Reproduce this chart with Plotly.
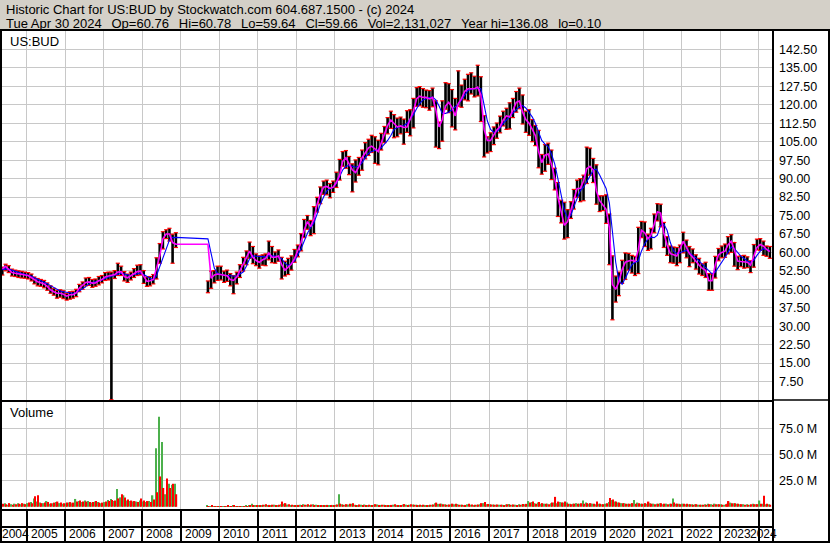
import pandas as pd
import plotly.graph_objects as go

W, H = 830, 543
FONT = "Arial, Liberation Sans, sans-serif"
GRID = "#c8c8c8"

# months with data (trading halted Dec 2008 - Aug 2009)
months = list(pd.period_range("2004-05", "2008-11", freq="M")) + \
         list(pd.period_range("2009-09", "2024-04", freq="M"))

ma_fast = [
    53.3, 54.3, 53.0, 51.8, 51.5, 51.2, 50.9, 50.8,
    50.6, 49.8, 48.8, 48.1, 47.7, 47.2, 46.2, 44.8, 44.0, 43.4, 43.4, 43.0,
    42.2, 42.8, 42.8, 43.5, 45.5, 46.5, 47.8, 48.0, 47.5, 47.6, 48.5, 49.0,
    50.0, 50.4, 50.6, 51.0, 52.0, 52.2, 50.2, 49.7, 50.5, 51.5, 52.2, 52.4,
    50.0, 48.2, 48.5, 49.0, 53.5, 58.5, 65.5, 67.5, 67.5, 64.0, 63.3,
    63.3, 49.5, 50.8, 51.2,
    51.0, 50.5, 50.5, 49.0, 48.6, 50.0, 52.5, 55.5, 57.5, 60.5, 58.0, 56.7,
    56.0, 57.0, 57.5, 59.8, 58.0, 58.0, 58.5, 55.0, 52.8, 54.0, 55.3, 57.5,
    60.5, 64.0, 69.0, 72.5, 70.5, 73.5, 79.5, 83.5, 86.5, 86.8, 86.0, 86.5,
    88.5, 91.5, 97.0, 98.5, 96.0, 93.5, 92.5, 94.8, 98.5, 100.5, 102.5, 103.2,
    102.0, 101.0, 104.5, 108.5, 111.5, 113.8, 112.5, 111.0, 111.4, 110.8, 111.0, 114.0,
    117.5, 122.5, 123.5, 123.0, 123.0, 122.4, 123.0, 118.0, 111.0, 114.0, 119.5, 121.0,
    119.0, 115.5, 120.5, 122.5, 125.5, 126.5, 126.5, 126.5, 127.2, 124.0, 110.0, 105.5,
    105.5, 107.5, 109.8, 111.2, 113.8, 115.5, 115.0, 117.8, 121.0, 121.5, 117.0, 114.0,
    112.5, 110.0, 107.5, 101.0, 96.5, 99.5, 100.0, 96.0, 90.0, 82.5, 77.0, 71.0,
    72.5, 77.5, 81.5, 86.0, 86.0, 89.0, 94.0, 95.0, 93.5, 85.0, 81.0, 79.5,
    77.5, 70.0, 47.0, 45.0, 48.0, 53.0, 56.0, 56.5, 56.8, 56.3, 61.0, 69.0,
    68.0, 65.5, 67.0, 71.5, 76.5, 76.0, 68.0, 63.0, 59.5, 59.0, 58.5, 61.5,
    64.5, 62.0, 59.5, 58.0, 56.3, 54.8, 53.5, 52.7, 48.5, 48.5, 55.0, 59.0,
    60.0, 60.5, 63.0, 64.5, 61.0, 56.5, 56.3, 56.2, 56.0, 54.8, 58.5, 62.0,
    63.2, 62.5, 61.2, 60.3,
]

ma_slow = [
    53.0, 53.3, 53.2, 52.7, 52.2, 51.8, 51.4, 51.1,
    50.8, 50.3, 49.7, 49.1, 48.6, 48.1, 47.3, 46.5, 45.7, 45.0, 44.3, 44.0,
    43.7, 43.5, 43.4, 43.6, 44.3, 45.2, 46.2, 47.2, 47.8, 48.0, 48.4, 48.8,
    49.5, 50.0, 50.3, 50.7, 51.2, 51.5, 51.2, 50.8, 50.6, 51.0, 51.4, 51.5,
    51.0, 50.2, 49.3, 48.8, 50.5, 54.2, 58.5, 62.0, 65.0, 66.0, 66.1,
    65.5, 59.0, 53.5, 51.5,
    51.0, 50.7, 50.6, 50.5, 50.2, 50.3, 51.2, 52.0, 54.5, 57.5, 58.6, 58.5,
    58.2, 58.0, 58.2, 58.6, 58.7, 58.5, 58.2, 57.5, 55.5, 54.6, 55.5, 56.5,
    59.0, 61.5, 64.5, 67.8, 70.0, 72.0, 75.5, 79.5, 82.5, 85.0, 86.0, 86.4,
    88.0, 91.0, 93.5, 95.0, 95.3, 95.0, 94.6, 95.0, 96.5, 98.5, 100.2, 101.0,
    101.4, 101.8, 102.5, 104.0, 105.5, 107.5, 110.0, 110.8, 111.2, 111.5, 112.5, 114.0,
    116.0, 118.5, 120.5, 122.0, 122.6, 123.0, 123.1, 122.0, 119.5, 116.5, 116.5, 117.0,
    118.0, 119.2, 120.3, 122.0, 124.0, 125.8, 126.3, 126.5, 126.7, 126.5, 120.0, 113.5,
    110.0, 108.8, 109.0, 110.5, 112.5, 114.0, 115.0, 116.5, 118.0, 119.2, 119.7, 118.7,
    117.0, 115.0, 112.5, 109.0, 105.5, 104.0, 103.0, 100.0, 96.0, 90.0, 83.0, 77.0,
    74.0, 75.0, 78.5, 82.0, 85.0, 86.5, 88.5, 91.0, 93.5, 93.8, 91.5, 88.5,
    86.0, 80.0, 68.0, 56.0, 48.5, 47.0, 49.5, 52.5, 55.0, 56.0, 56.5, 60.5,
    63.5, 65.5, 66.2, 66.0, 67.0, 71.0, 71.5, 69.0, 64.0, 60.5, 59.5, 59.8,
    60.5, 60.8, 60.0, 58.8, 57.8, 56.5, 55.4, 54.0, 52.5, 51.3, 52.0, 53.8,
    56.0, 58.0, 60.0, 62.2, 61.5, 59.8, 58.5, 57.5, 56.5, 56.0, 56.8, 58.8,
    60.5, 61.5, 61.2, 60.8,
]

opens = [
    52.0, 53.5, 54.0, 52.6, 51.6, 51.2, 51.4, 50.6,
    50.8, 50.0, 49.2, 48.0, 47.6, 47.2, 46.6, 45.6, 44.4, 43.6, 43.0, 43.6,
    42.6, 41.6, 42.4, 43.0, 44.6, 45.4, 46.2, 48.4, 48.6, 47.4, 47.6, 48.8,
    49.2, 50.8, 50.4, 50.6, 51.4, 53.2, 51.8, 49.6, 49.8, 50.4, 51.6, 52.8,
    52.4, 48.8, 47.4, 48.6, 49.6, 57.0, 62.2, 67.6, 67.8, 66.0, 64.0,
    45.0, 46.4, 49.6, 50.4,
    51.8, 50.0, 50.6, 49.8, 48.2, 47.8, 50.4, 53.8, 55.6, 59.0, 61.0, 57.0,
    57.2, 55.4, 57.4, 57.2, 62.0, 57.6, 58.0, 57.6, 53.2, 53.0, 55.6, 56.8,
    60.8, 61.0, 66.8, 72.6, 71.6, 68.2, 77.8, 81.0, 85.2, 86.0, 84.0, 87.0,
    87.4, 91.0, 96.8, 99.4, 96.6, 92.6, 90.2, 96.6, 94.0, 99.2, 103.8, 101.6,
    106.4, 97.0, 104.2, 105.4, 109.6, 112.4, 115.0, 108.0, 112.2, 111.0, 110.8, 117.0,
    112.4, 121.8, 123.2, 122.0, 120.2, 121.2, 121.0, 120.0, 106.4, 106.2, 119.8, 128.4,
    125.0, 116.0, 120.6, 124.6, 124.0, 126.2, 131.8, 129.0, 125.2, 130.4, 114.8, 103.6,
    104.2, 104.2, 109.6, 109.8, 113.0, 116.2, 110.4, 120.6, 118.6, 119.6, 123.0, 115.0,
    111.6, 111.8, 108.6, 108.2, 98.2, 93.6, 100.8, 101.2, 92.6, 87.4, 76.8, 79.4,
    66.2, 76.2, 79.4, 83.8, 88.6, 81.6, 88.4, 101.6, 94.8, 95.0, 80.4, 78.4,
    82.0, 73.4, 56.6, 44.2, 45.6, 49.2, 49.8, 54.6, 56.2, 53.8, 51.8, 69.2,
    70.0, 62.8, 62.6, 68.8, 75.2, 75.6, 71.4, 64.2, 60.4, 56.4, 61.2, 56.4,
    60.6, 63.6, 60.8, 59.8, 56.8, 55.6, 54.0, 53.4, 50.2, 45.6, 50.0, 57.6,
    60.0, 60.4, 60.2, 65.8, 63.8, 55.8, 56.4, 56.8, 57.0, 55.4, 54.2, 62.6,
    64.6, 62.8, 60.6, 60.76,
]

highs = [
    54.0, 55.2, 54.6, 53.2, 52.8, 52.5, 52.3, 52.0,
    51.8, 51.2, 50.0, 49.4, 49.0, 48.6, 47.6, 46.4, 45.4, 44.6, 44.8, 44.4,
    43.4, 44.0, 44.2, 45.0, 47.0, 48.0, 49.6, 49.8, 49.0, 49.2, 50.2, 50.6,
    51.8, 52.0, 52.0, 52.6, 55.6, 54.4, 52.2, 51.2, 52.0, 53.4, 54.8, 55.0,
    52.6, 50.0, 50.2, 51.0, 57.8, 63.6, 68.4, 69.2, 69.8, 67.4, 68.0,
    48.4, 52.4, 52.6, 54.4,
    54.4, 52.4, 52.8, 51.4, 50.6, 52.0, 55.0, 58.0, 60.6, 64.2, 62.4, 59.4,
    58.6, 59.0, 59.4, 64.6, 62.4, 60.2, 61.0, 58.0, 56.4, 57.6, 58.6, 61.2,
    63.0, 67.6, 73.4, 75.0, 73.0, 78.6, 82.4, 86.6, 89.0, 89.4, 88.0, 89.0,
    92.6, 97.8, 101.0, 101.4, 99.0, 96.0, 97.6, 98.6, 101.6, 104.6, 106.0, 107.6,
    107.0, 105.6, 108.4, 111.2, 114.8, 117.4, 116.0, 114.6, 115.0, 114.2, 117.6, 118.0,
    122.6, 127.0, 127.4, 126.6, 126.0, 125.8, 126.8, 121.6, 113.0, 121.6, 129.0, 128.6,
    126.2, 122.6, 133.8, 128.0, 130.4, 132.4, 133.0, 131.6, 136.08, 131.4, 115.6, 107.0,
    108.6, 111.0, 112.6, 115.4, 117.4, 118.6, 120.8, 122.6, 125.4, 126.8, 124.0, 117.4,
    118.0, 114.0, 111.6, 109.6, 99.8, 103.8, 104.4, 101.6, 94.2, 88.4, 81.2, 80.4,
    77.4, 80.6, 85.6, 89.4, 90.0, 91.4, 102.8, 102.4, 98.2, 95.6, 83.0, 83.0,
    83.4, 75.6, 58.6, 50.4, 52.0, 56.8, 59.8, 59.6, 58.8, 58.4, 70.2, 72.6,
    72.4, 67.4, 69.8, 75.6, 79.8, 79.6, 72.2, 66.4, 62.6, 62.2, 62.0, 63.0,
    68.2, 65.0, 62.4, 61.4, 59.0, 57.6, 55.4, 56.0, 51.4, 51.2, 58.4, 61.6,
    62.6, 63.4, 66.4, 67.2, 64.0, 58.4, 58.6, 58.8, 58.2, 56.6, 63.2, 65.4,
    65.6, 64.6, 62.6, 62.4,
]

lows = [
    50.8, 52.5, 51.8, 50.4, 50.2, 49.8, 49.6, 49.5,
    49.2, 48.4, 47.2, 46.4, 46.2, 45.6, 44.6, 43.4, 42.6, 41.4, 41.8, 41.2,
    40.6, 41.0, 41.4, 42.0, 44.0, 45.0, 46.4, 46.6, 45.8, 46.2, 46.8, 47.6,
    48.6, 48.8, 0.10, 49.4, 50.6, 50.6, 48.4, 47.8, 48.8, 49.8, 50.6, 50.8,
    47.4, 46.2, 46.4, 47.2, 49.2, 55.6, 61.4, 65.6, 64.6, 55.6, 62.0,
    43.6, 45.4, 47.6, 48.6,
    48.8, 47.8, 48.2, 46.4, 43.2, 47.2, 49.8, 52.4, 55.0, 57.6, 55.4, 54.6,
    53.6, 54.8, 54.6, 57.0, 55.8, 55.6, 56.4, 49.2, 50.4, 51.0, 52.8, 56.0,
    58.2, 60.6, 66.0, 69.4, 66.8, 67.6, 76.4, 79.8, 83.6, 83.4, 82.2, 84.4,
    86.4, 89.4, 95.0, 94.2, 91.6, 84.6, 88.6, 91.4, 93.4, 98.0, 99.4, 100.6,
    96.2, 95.6, 101.6, 104.6, 108.2, 110.4, 106.6, 107.0, 108.2, 104.0, 108.8, 107.4,
    110.6, 119.4, 119.6, 119.0, 118.8, 117.8, 119.2, 102.8, 102.2, 105.2, 118.2, 116.8,
    111.0, 109.8, 119.4, 119.0, 122.0, 121.6, 124.4, 123.2, 123.6, 113.2, 98.8, 100.4,
    101.0, 103.8, 106.4, 108.6, 111.4, 110.0, 110.2, 114.8, 117.0, 118.4, 112.2, 108.8,
    107.6, 105.0, 103.4, 94.4, 91.8, 93.0, 95.8, 89.6, 85.4, 74.6, 72.0, 65.4,
    66.0, 73.8, 77.6, 82.4, 80.6, 81.0, 88.0, 91.4, 88.4, 79.6, 76.6, 77.0,
    71.8, 55.0, 32.6, 39.8, 42.4, 47.4, 49.0, 52.8, 51.6, 50.6, 51.4, 66.0,
    62.4, 60.8, 61.4, 68.0, 72.8, 70.4, 62.0, 58.8, 55.8, 55.6, 54.6, 55.8,
    59.8, 57.8, 54.2, 55.8, 53.2, 51.2, 50.6, 49.8, 44.6, 44.6, 49.6, 56.6,
    57.8, 58.0, 59.4, 60.0, 54.4, 53.0, 54.2, 53.6, 53.8, 51.8, 54.0, 61.0,
    60.8, 58.8, 58.4, 57.6,
]

closes = [
    53.5, 54.0, 52.6, 51.6, 51.2, 51.4, 50.6, 50.8,
    50.0, 49.2, 48.0, 47.6, 47.2, 46.6, 45.6, 44.4, 43.6, 43.0, 43.6, 42.6,
    41.6, 42.4, 43.0, 44.6, 45.4, 46.2, 48.4, 48.6, 47.4, 47.6, 48.8, 49.2,
    50.8, 50.4, 50.6, 51.4, 53.2, 51.8, 49.6, 49.8, 50.4, 51.6, 52.8, 52.4,
    48.8, 47.4, 48.6, 49.6, 57.0, 62.2, 67.6, 67.8, 66.0, 64.0, 63.5,
    46.4, 49.6, 50.4, 51.8,
    50.0, 50.6, 49.8, 48.2, 47.8, 50.4, 53.8, 55.6, 59.0, 61.0, 57.0, 57.2,
    55.4, 57.4, 57.2, 62.0, 57.6, 58.0, 57.6, 53.2, 53.0, 55.6, 56.8, 60.8,
    61.0, 66.8, 72.6, 71.6, 68.2, 77.8, 81.0, 85.2, 86.0, 84.0, 87.0, 87.4,
    91.0, 96.8, 99.4, 96.6, 92.6, 90.2, 96.6, 94.0, 99.2, 103.8, 101.6, 106.4,
    97.0, 104.2, 105.4, 109.6, 112.4, 115.0, 108.0, 112.2, 111.0, 110.8, 117.0, 112.4,
    121.8, 123.2, 122.0, 120.2, 121.2, 121.0, 120.0, 106.4, 106.2, 119.8, 128.4, 125.0,
    116.0, 120.6, 124.6, 124.0, 126.2, 131.8, 129.0, 125.2, 130.4, 114.8, 103.6, 104.2,
    104.2, 109.6, 109.8, 113.0, 116.2, 110.4, 120.6, 118.6, 119.6, 123.0, 115.0, 111.6,
    111.8, 108.6, 108.2, 98.2, 93.6, 100.8, 101.2, 92.6, 87.4, 76.8, 79.4, 66.2,
    76.2, 79.4, 83.8, 88.6, 81.6, 88.4, 101.6, 94.8, 95.0, 80.4, 78.4, 82.0,
    73.4, 56.6, 44.2, 45.6, 49.2, 49.8, 54.6, 56.2, 53.8, 51.8, 69.2, 70.0,
    62.8, 62.6, 68.8, 75.2, 75.6, 71.4, 64.2, 60.4, 56.4, 61.2, 56.4, 60.6,
    63.6, 60.8, 59.8, 56.8, 55.6, 54.0, 53.4, 50.2, 45.6, 50.0, 57.6, 60.0,
    60.4, 60.2, 65.8, 63.8, 55.8, 56.4, 56.8, 57.0, 55.4, 54.2, 62.6, 64.6,
    62.8, 60.6, 60.8, 59.66,
]

# volume in millions: largest up-day and down-day bar of each month
vol_up = [
    2.5, 3.5, 2.0, 2.5, 3.0, 3.5, 2.5, 3.0,
    3.5, 4.5, 8.0, 5.0, 4.0, 3.5, 5.5, 3.0, 3.5, 4.5, 3.5, 3.0,
    3.5, 4.0, 3.5, 7.5, 5.5, 4.5, 6.0, 5.5, 4.0, 5.0, 4.5, 3.5,
    4.5, 6.5, 7.5, 5.5, 17.0, 9.0, 11.0, 6.0, 5.5, 5.0, 5.0, 6.0,
    5.0, 4.5, 5.5, 11.0, 56.0, 86.0, 62.0, 12.0, 22.0, 21.0, 22.0,
    0.8, 0.6, 0.5, 0.5,
    0.5, 0.6, 0.4, 0.5, 0.8, 0.6, 0.5, 0.6, 0.8, 1.0, 3.0, 0.8,
    1.5, 1.8, 2.0, 1.5, 1.8, 2.0, 1.5, 2.5, 3.0, 2.2, 1.8, 1.5,
    1.5, 2.0, 2.5, 2.0, 1.8, 2.5, 2.0, 1.5, 1.8, 1.5, 1.5, 1.8,
    2.0, 12.0, 2.5, 2.0, 2.2, 3.0, 2.0, 1.8, 2.0, 2.2, 1.8, 1.6,
    2.0, 2.2, 1.8, 2.0, 1.8, 1.6, 2.0, 1.8, 1.6, 2.2, 2.0, 2.0,
    2.2, 2.0, 1.8, 1.8, 1.6, 1.8, 2.0, 3.5, 2.8, 3.0, 2.5, 2.0,
    2.5, 2.4, 2.6, 2.0, 1.8, 2.4, 2.0, 1.8, 2.0, 2.5, 3.5, 2.5,
    2.5, 2.2, 2.0, 2.0, 2.0, 2.2, 2.6, 2.0, 2.0, 2.4, 2.2, 2.5,
    5.5, 4.5, 3.5, 4.0, 3.0, 3.0, 3.0, 3.5, 4.0, 3.5, 4.5, 4.0,
    4.0, 3.0, 3.0, 3.5, 3.0, 6.0, 4.0, 3.0, 3.0, 2.5, 3.0, 2.5,
    3.0, 4.5, 6.5, 5.0, 4.0, 3.5, 3.5, 3.0, 3.0, 6.5, 4.0, 3.0,
    3.0, 3.0, 3.5, 3.0, 3.0, 3.5, 2.5, 3.0, 3.0, 8.0, 3.0, 3.0,
    3.0, 2.5, 2.5, 2.5, 2.5, 2.0, 2.0, 2.5, 3.0, 2.5, 3.0, 2.5,
    2.5, 2.0, 3.0, 4.0, 3.5, 3.0, 2.5, 2.5, 2.5, 2.0, 3.0, 2.5,
    6.0, 3.0, 2.5, 2.5,
]

vol_down = [
    3.0, 2.5, 3.5, 2.0, 2.5, 3.0, 3.5, 2.5,
    4.0, 3.5, 10.0, 11.0, 3.5, 4.0, 4.5, 3.5, 4.0, 5.0, 4.0, 3.5,
    4.0, 4.5, 4.0, 5.0, 6.0, 5.0, 5.0, 4.5, 4.5, 5.5, 4.0, 4.0,
    5.0, 5.5, 6.5, 6.0, 8.0, 12.0, 9.0, 7.0, 6.0, 5.5, 4.5, 8.0,
    6.0, 5.5, 4.5, 7.0, 14.0, 29.0, 18.0, 27.0, 18.0, 22.0, 12.0,
    0.5, 1.0, 0.4, 0.6,
    0.6, 0.5, 0.8, 0.6, 1.2, 0.5, 0.4, 0.6, 0.5, 0.8, 1.5, 0.9,
    1.8, 2.0, 2.5, 1.8, 2.0, 1.5, 2.0, 5.0, 3.5, 2.5, 2.0, 1.8,
    1.8, 1.5, 2.0, 2.5, 2.2, 1.8, 1.5, 1.8, 1.5, 1.8, 1.6, 1.5,
    2.2, 3.0, 2.0, 2.5, 2.8, 3.5, 1.8, 2.2, 1.8, 1.5, 2.0, 1.8,
    2.5, 1.8, 2.0, 1.8, 1.6, 1.8, 2.4, 1.8, 1.8, 2.6, 1.8, 2.4,
    2.0, 1.8, 2.0, 2.0, 1.8, 2.0, 2.2, 4.0, 3.0, 2.5, 2.0, 2.2,
    3.0, 2.8, 2.0, 2.0, 1.8, 3.0, 2.2, 2.0, 2.2, 3.5, 4.5, 2.6,
    2.2, 2.0, 2.2, 2.0, 1.8, 2.4, 2.0, 2.2, 1.8, 2.0, 2.6, 2.8,
    4.0, 5.0, 3.0, 4.5, 3.5, 3.0, 2.5, 4.0, 9.5, 5.0, 4.0, 5.0,
    3.0, 2.5, 3.0, 3.0, 3.5, 3.0, 3.5, 3.5, 3.0, 5.0, 3.0, 2.5,
    3.5, 8.5, 7.0, 5.0, 4.0, 3.5, 3.0, 3.0, 3.5, 3.0, 3.5, 3.0,
    3.5, 5.0, 3.0, 2.5, 3.0, 3.5, 3.0, 2.5, 3.0, 4.0, 3.0, 2.5,
    3.0, 3.0, 2.5, 2.0, 2.5, 2.0, 2.0, 2.0, 2.5, 2.0, 2.5, 2.5,
    2.0, 2.5, 5.5, 3.5, 3.5, 3.0, 2.5, 2.0, 2.0, 2.5, 2.5, 2.5,
    3.0, 10.5, 3.0, 2.0,
]

years = list(range(2005, 2025))
price_ticks = [7.5 * i for i in range(1, 20)]
vol_ticks = [25, 50, 75]

for name, arr in [("ma_fast", ma_fast), ("ma_slow", ma_slow), ("opens", opens),
                  ("highs", highs), ("lows", lows), ("closes", closes),
                  ("vol_up", vol_up), ("vol_down", vol_down)]:
    assert len(arr) == len(months), (name, len(arr), len(months))

dates = [p.to_timestamp() + pd.Timedelta(days=14) for p in months]
xrange = ["2004-05-12", "2024-05-15"]


def py(p):
    return 1 - p / H


fig = go.Figure()

fig.add_trace(go.Ohlc(
    x=dates, open=opens, high=highs, low=lows, close=closes,
    increasing=dict(line=dict(color="black", width=2.6)),
    decreasing=dict(line=dict(color="black", width=2.6)),
    tickwidth=0.15, xaxis="x", yaxis="y", hoverinfo="skip",
))
# red tick marks at the bar extremes
fig.add_trace(go.Scatter(
    x=dates + dates, y=highs + lows, mode="markers", xaxis="x", yaxis="y",
    marker=dict(symbol="line-ew", size=3, line=dict(color="#ff0000", width=1.2)),
    hoverinfo="skip",
))
fig.add_trace(go.Scatter(
    x=dates, y=ma_slow, mode="lines", xaxis="x", yaxis="y",
    line=dict(color="#0000ff", width=1.1), hoverinfo="skip",
))
fig.add_trace(go.Scatter(
    x=dates, y=ma_fast, mode="lines", xaxis="x", yaxis="y",
    line=dict(color="#ff00ff", width=1.6), hoverinfo="skip",
))

fig.add_trace(go.Bar(
    x=dates, y=vol_up, marker=dict(color="#4cb04c", line=dict(width=0)),
    xaxis="x2", yaxis="y2", hoverinfo="skip",
))
fig.add_trace(go.Bar(
    x=dates, y=vol_down, marker=dict(color="#ff0000", line=dict(width=0)),
    xaxis="x2", yaxis="y2", hoverinfo="skip",
))

year_dates = [f"{y}-01-01" for y in years]
xdom = [2 / W, 773 / W]

fig.update_layout(
    width=W, height=H,
    margin=dict(l=0, r=0, t=0, b=0),
    paper_bgcolor="white", plot_bgcolor="white",
    showlegend=False,
    barmode="group", bargap=0.1, bargroupgap=0,
    font=dict(family=FONT, size=13, color="black"),
    xaxis=dict(
        domain=xdom, anchor="y", type="date", range=xrange,
        tickmode="array", tickvals=year_dates, showticklabels=False,
        showgrid=True, gridcolor=GRID, gridwidth=1, ticks="",
        showline=True, linecolor="black", linewidth=1.5,
        rangeslider=dict(visible=False), zeroline=False,
    ),
    yaxis=dict(
        domain=[py(400), py(31)], anchor="x", range=[0, 150], side="right",
        tickmode="array", tickvals=price_ticks,
        ticktext=[f"{v:.2f}" for v in price_ticks],
        showgrid=True, gridcolor=GRID, gridwidth=1, zeroline=False,
        ticks="", ticklabelstandoff=5, tickfont=dict(size=12.5),
        showline=False,
    ),
    xaxis2=dict(
        domain=xdom, anchor="y2", type="date", range=xrange,
        tickmode="array", tickvals=year_dates, showticklabels=False,
        showgrid=True, gridcolor=GRID, gridwidth=1,
        ticks="outside", ticklen=34, tickwidth=2, tickcolor="black",
        showline=True, mirror=True, linecolor="black", linewidth=2,
        zeroline=False,
    ),
    yaxis2=dict(
        domain=[py(509), py(402)], anchor="x2", range=[-2.1, 100.1], side="right",
        tickmode="array", tickvals=vol_ticks,
        ticktext=[f"{v:.1f} M" for v in vol_ticks],
        showgrid=True, gridcolor=GRID, gridwidth=1, zeroline=False,
        ticks="", ticklabelstandoff=5, tickfont=dict(size=12.5),
        showline=False,
    ),
)

shapes = [
    # title bar
    dict(type="rect", xref="paper", yref="paper", x0=0, x1=1, y0=py(30), y1=1,
         fillcolor="#d4d0c8", line=dict(width=0), layer="below"),
    dict(type="line", xref="paper", yref="paper", x0=0, x1=1, y0=py(30), y1=py(30),
         line=dict(color="black", width=2)),
    # outer frame
    dict(type="line", xref="paper", yref="paper", x0=1 / W, x1=1 / W, y0=0, y1=py(30),
         line=dict(color="black", width=2)),
    dict(type="line", xref="paper", yref="paper", x0=829 / W, x1=829 / W, y0=0, y1=py(30),
         line=dict(color="black", width=2)),
    dict(type="line", xref="paper", yref="paper", x0=0, x1=1, y0=py(542), y1=py(542),
         line=dict(color="black", width=2)),
    # axis column separator
    dict(type="line", xref="paper", yref="paper", x0=773 / W, x1=773 / W, y0=0, y1=py(30),
         line=dict(color="black", width=2)),
    # panel separators
    dict(type="line", xref="paper", yref="paper", x0=773 / W, x1=1, y0=py(400), y1=py(400),
         line=dict(color="black", width=1.5)),
    dict(type="line", xref="paper", yref="paper", x0=0, x1=773 / W, y0=py(527), y1=py(527),
         line=dict(color="black", width=2)),
]
fig.update_layout(shapes=shapes)

sp = "\u00a0\u00a0\u2009"
annotations = [
    dict(text="Historic Chart for US:BUD by Stockwatch.com 604.687.1500 - (c) 2024",
         x=4 / W, y=py(9.5)),
    dict(text=f"Tue Apr 30 2024{sp}Op=60.76{sp}Hi=60.78{sp}Lo=59.64{sp}Cl=59.66{sp}"
              f"Vol=2,131,027{sp}Year hi=136.08{sp}lo=0.10",
         x=4 / W, y=py(23)),
    dict(text="US:BUD", x=8 / W, y=py(41.5)),
    dict(text="Volume", x=8 / W, y=py(413)),
    dict(text="2004", x=0, y=py(534), font=dict(size=12)),
    dict(text="2024", x=779 / W, y=py(534), xanchor="right", font=dict(size=12)),
]
for a in annotations:
    a.setdefault("xanchor", "left")
    a.update(xref="paper", yref="paper", yanchor="middle", showarrow=False)
for y in years[:-1]:
    annotations.append(dict(
        text=str(y), x=f"{y}-01-01", xref="x2", y=py(534), yref="paper",
        xanchor="left", yanchor="middle", xshift=2, showarrow=False,
        font=dict(size=12),
    ))
fig.update_layout(annotations=annotations)

fig.write_html(
    "out.html",
    config={"displayModeBar": False},
    post_script="document.body.style.margin='0';document.body.style.overflow='hidden';",
)
